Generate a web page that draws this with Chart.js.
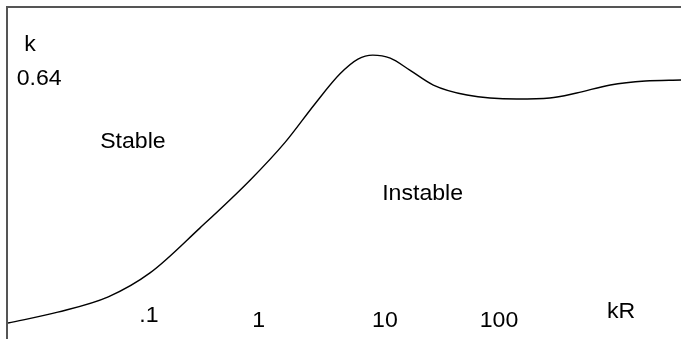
<!DOCTYPE html>
<html>
<head>
<meta charset="utf-8">
<script src="https://cdn.jsdelivr.net/npm/chart.js@4"></script>
<style>
  body { margin: 0; background: #fff; }
  #wrap { width: 681px; height: 339px; }
</style>
</head>
<body>
<div id="wrap"><canvas id="myChart"></canvas></div>
<script>
// curve (arbitrary 0-100 units on both axes)
const curveX = [0, 7.4, 14.9, 21.1, 28.5, 36.0, 41.2, 45.6, 49.3, 52.0, 54.2, 56.8, 59.7, 63.2, 68.2, 75.6, 80.5, 84.5, 89.5, 94.7, 100];
const curveY = [4.8, 8.1, 12.7, 19.9, 33.4, 47.9, 59.3, 70.8, 79.8, 84.3, 85.5, 84.6, 81.0, 76.5, 73.5, 72.3, 72.6, 74.1, 76.5, 77.7, 78.0];

// free text labels and where they sit (left edge, baseline) in data units
const labelText = ['k', '0.64', 'Stable', 'Instable', '.1', '1', '10', '100', 'kR'];
const labelX = [2.4, 1.3, 13.7, 55.6, 19.5, 36.3, 54.1, 70.1, 89.0];
const labelY = [86.7, 76.5, 57.5, 41.9, 5.1, 3.6, 3.6, 3.6, 6.3];

const frameAndText = {
    id: 'frameAndText',
    afterDraw(chart) {
        const c = chart.ctx;
        const a = chart.chartArea;
        const xs = chart.scales.x, ys = chart.scales.y;
        c.save();
        // top and left lines only
        c.strokeStyle = '#555';
        c.lineWidth = 2;
        c.beginPath();
        c.moveTo(a.left - 1, chart.height);
        c.lineTo(a.left - 1, a.top);
        c.lineTo(chart.width, a.top);
        c.stroke();

        c.fillStyle = '#000';
        c.font = '22px "Liberation Sans", Arial, sans-serif';
        c.textBaseline = 'alphabetic';
        labelText.forEach((t, i) => {
            c.save();
            c.translate(xs.getPixelForValue(labelX[i]), ys.getPixelForValue(labelY[i]));
            c.scale(1.05, 1);
            c.fillText(t, 0, 0);
            c.restore();
        });
        c.restore();
    }
};

var ctx = document.getElementById('myChart');
var myChart = new Chart(ctx, {
    type: 'line',
    data: {
        datasets: [{
            data: curveX.map((x, i) => ({x: x, y: curveY[i]})),
            borderColor: '#000',
            borderWidth: 1.4,
            pointRadius: 0,
            cubicInterpolationMode: 'monotone',
            fill: false
        }]
    },
    options: {
        responsive: true,
        maintainAspectRatio: false,
        animation: false,
        events: [],
        layout: { padding: { left: 8, top: 7, right: 0, bottom: 0 } },
        plugins: { legend: { display: false }, tooltip: { enabled: false } },
        scales: {
            x: { type: 'linear', min: 0, max: 100, display: false },
            y: { min: 0, max: 100, display: false }
        }
    },
    plugins: [frameAndText]
});
</script>
</body>
</html>
